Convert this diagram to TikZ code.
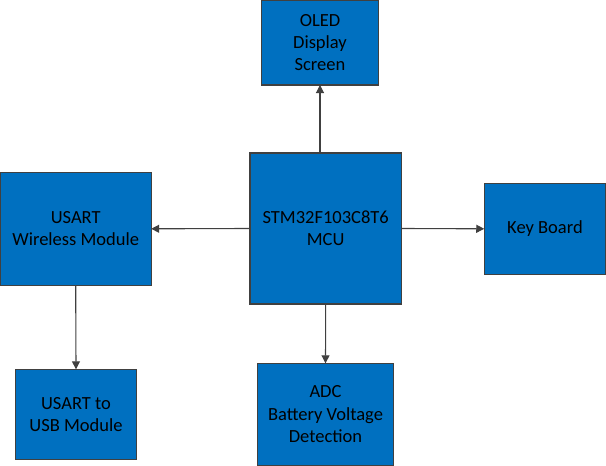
\documentclass[tikz,border=0pt]{standalone}
\usepackage{fontspec}
\setmainfont{Carlito}
\usetikzlibrary{arrows.meta}
\definecolor{boxfill}{HTML}{0070C0}
\definecolor{edgecol}{HTML}{404040}
\begin{document}
\begin{tikzpicture}[x=1pt,y=-1pt,
  box/.style={draw=edgecol, fill=boxfill, line width=1.2pt, inner sep=0pt, outer sep=0pt,
    align=center, text=black, font=\fontsize{18.5}{22.3}\selectfont},
  conn/.style={draw=edgecol, line width=1.1pt, -{Triangle[length=8pt,width=8pt]}}]
\useasboundingbox (0,0) rectangle (606,466);
\node[box, minimum width=117pt, minimum height=85pt] (oled) at (320,42.5) {OLED\\Display\\Screen};
\node[box, minimum width=151.5pt, minimum height=151pt] (mcu) at (325.7,228.5) {STM32F103C8T6\\MCU};
\node[box, minimum width=151pt, minimum height=113pt] (wl) at (75.7,228.8) {USART\\Wireless Module};
\node[box, minimum width=121.5pt, minimum height=91pt] (kb) at (545,228.8) {Key Board};
\node[box, minimum width=121.5pt, minimum height=90pt] (usb) at (76,414.3) {USART to\\USB Module};
\node[box, minimum width=136.5pt, minimum height=102pt] (adc) at (325.5,414.3) {ADC\\Battery Voltage\\Detection};
\draw[conn] (mcu.north -| oled.south) -- (oled.south);
\draw[conn] (mcu.west) -- (wl.east);
\draw[conn] (mcu.east) -- (kb.west);
\draw[conn] (wl.south) -- (usb.north);
\draw[conn] (mcu.south) -- (adc.north);
\end{tikzpicture}
\end{document}
